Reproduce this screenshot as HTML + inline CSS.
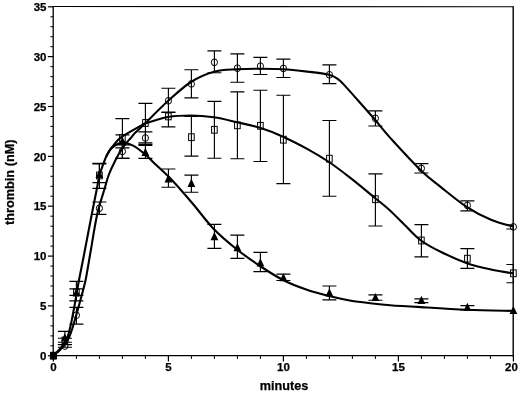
<!DOCTYPE html>
<html lang="en"><head><meta charset="utf-8"><title>thrombin (nM) vs minutes</title>
<style>html,body{margin:0;padding:0;background:#fff}body{width:520px;height:395px;overflow:hidden}</style></head>
<body>
<svg width="520" height="395" viewBox="0 0 520 395" style="display:block">
<rect width="520" height="395" fill="#fff"/>
<g stroke="#000" stroke-width="1.5" fill="none">
<path d="M53.2,356.4 V6.5" stroke-width="1.3"/>
<path d="M52.6,6.5 L513.8,6.8" stroke-width="1.1"/>
<path d="M513.2,6.5 V356.4" stroke-width="1.4"/>
<path d="M53.2,355.7 H513.2" stroke-width="1.3"/>
<path d="M47.9,355.8 H53.2" stroke-width="1.2"/>
<path d="M50.4,345.8 H53.2" stroke-width="1"/>
<path d="M50.4,335.9 H53.2" stroke-width="1"/>
<path d="M50.4,325.9 H53.2" stroke-width="1"/>
<path d="M50.4,315.9 H53.2" stroke-width="1"/>
<path d="M47.9,305.9 H53.2" stroke-width="1.2"/>
<path d="M50.4,296.0 H53.2" stroke-width="1"/>
<path d="M50.4,286.0 H53.2" stroke-width="1"/>
<path d="M50.4,276.0 H53.2" stroke-width="1"/>
<path d="M50.4,266.1 H53.2" stroke-width="1"/>
<path d="M47.9,256.1 H53.2" stroke-width="1.2"/>
<path d="M50.4,246.1 H53.2" stroke-width="1"/>
<path d="M50.4,236.1 H53.2" stroke-width="1"/>
<path d="M50.4,226.2 H53.2" stroke-width="1"/>
<path d="M50.4,216.2 H53.2" stroke-width="1"/>
<path d="M47.9,206.2 H53.2" stroke-width="1.2"/>
<path d="M50.4,196.2 H53.2" stroke-width="1"/>
<path d="M50.4,186.3 H53.2" stroke-width="1"/>
<path d="M50.4,176.3 H53.2" stroke-width="1"/>
<path d="M50.4,166.3 H53.2" stroke-width="1"/>
<path d="M47.9,156.4 H53.2" stroke-width="1.2"/>
<path d="M50.4,146.4 H53.2" stroke-width="1"/>
<path d="M50.4,136.4 H53.2" stroke-width="1"/>
<path d="M50.4,126.4 H53.2" stroke-width="1"/>
<path d="M50.4,116.5 H53.2" stroke-width="1"/>
<path d="M47.9,106.5 H53.2" stroke-width="1.2"/>
<path d="M50.4,96.5 H53.2" stroke-width="1"/>
<path d="M50.4,86.6 H53.2" stroke-width="1"/>
<path d="M50.4,76.6 H53.2" stroke-width="1"/>
<path d="M50.4,66.6 H53.2" stroke-width="1"/>
<path d="M47.9,56.6 H53.2" stroke-width="1.2"/>
<path d="M50.4,46.7 H53.2" stroke-width="1"/>
<path d="M50.4,36.7 H53.2" stroke-width="1"/>
<path d="M50.4,26.7 H53.2" stroke-width="1"/>
<path d="M50.4,16.8 H53.2" stroke-width="1"/>
<path d="M47.9,6.8 H53.2" stroke-width="1.2"/>
<path d="M53.4,355.6 v6.0" stroke-width="1.2"/>
<path d="M76.4,355.6 v3.4" stroke-width="1"/>
<path d="M99.4,355.6 v3.4" stroke-width="1"/>
<path d="M122.4,355.6 v3.4" stroke-width="1"/>
<path d="M145.4,355.6 v3.4" stroke-width="1"/>
<path d="M168.4,355.6 v6.0" stroke-width="1.2"/>
<path d="M191.4,355.6 v3.4" stroke-width="1"/>
<path d="M214.4,355.6 v3.4" stroke-width="1"/>
<path d="M237.4,355.6 v3.4" stroke-width="1"/>
<path d="M260.4,355.6 v3.4" stroke-width="1"/>
<path d="M283.4,355.6 v6.0" stroke-width="1.2"/>
<path d="M306.4,355.6 v3.4" stroke-width="1"/>
<path d="M329.4,355.6 v3.4" stroke-width="1"/>
<path d="M352.4,355.6 v3.4" stroke-width="1"/>
<path d="M375.4,355.6 v3.4" stroke-width="1"/>
<path d="M398.4,355.6 v6.0" stroke-width="1.2"/>
<path d="M421.4,355.6 v3.4" stroke-width="1"/>
<path d="M444.4,355.6 v3.4" stroke-width="1"/>
<path d="M467.4,355.6 v3.4" stroke-width="1"/>
<path d="M490.4,355.6 v3.4" stroke-width="1"/>
<path d="M513.4,355.6 v6.0" stroke-width="1.2"/>
</g>
<g stroke="#000" stroke-width="1.15" fill="none">
<path d="M64.9,344.6 V347.2 M57.9,344.6 H71.9 M57.9,347.2 H71.9"/>
<path d="M76.4,307.3 V324.1 M69.4,307.3 H83.4 M69.4,324.1 H83.4"/>
<path d="M99.4,202.0 V214.4 M92.4,202.0 H106.4 M92.4,214.4 H106.4"/>
<path d="M122.4,144.8 V158.3 M115.4,144.8 H129.4 M115.4,158.3 H129.4"/>
<path d="M145.4,131.9 V144.3 M138.4,131.9 H152.4 M138.4,144.3 H152.4"/>
<path d="M168.4,88.2 V112.5 M161.4,88.2 H175.4 M161.4,112.5 H175.4"/>
<path d="M191.4,69.7 V97.8 M184.4,69.7 H198.4 M184.4,97.8 H198.4"/>
<path d="M214.4,50.9 V72.7 M207.4,50.9 H221.4 M207.4,72.7 H221.4"/>
<path d="M237.4,53.9 V82.2 M230.4,53.9 H244.4 M230.4,82.2 H244.4"/>
<path d="M260.4,57.4 V74.5 M253.4,57.4 H267.4 M253.4,74.5 H267.4"/>
<path d="M283.4,59.1 V77.5 M276.4,59.1 H290.4 M276.4,77.5 H290.4"/>
<path d="M329.4,64.9 V83.6 M322.4,64.9 H336.4 M322.4,83.6 H336.4"/>
<path d="M375.4,110.9 V126.0 M368.4,110.9 H382.4 M368.4,126.0 H382.4"/>
<path d="M421.4,163.6 V173.0 M414.4,163.6 H428.4 M414.4,173.0 H428.4"/>
<path d="M467.4,200.8 V210.9 M460.4,200.8 H474.4 M460.4,210.9 H474.4"/>
<path d="M513.4,225.0 V229.0 M506.4,225.0 H513.2 M506.4,229.0 H513.2"/>
<path d="M64.9,338.2 V342.2 M57.9,338.2 H71.9 M57.9,342.2 H71.9"/>
<path d="M76.4,288.8 V295.4 M69.4,288.8 H83.4 M69.4,295.4 H83.4"/>
<path d="M99.4,163.3 V188.3 M92.4,163.3 H106.4 M92.4,188.3 H106.4"/>
<path d="M122.4,118.6 V158.3 M115.4,118.6 H129.4 M115.4,158.3 H129.4"/>
<path d="M145.4,103.3 V142.8 M138.4,103.3 H152.4 M138.4,142.8 H152.4"/>
<path d="M168.4,112.1 V126.8 M161.4,112.1 H175.4 M161.4,126.8 H175.4"/>
<path d="M191.4,116.4 V156.1 M184.4,116.4 H198.4 M184.4,156.1 H198.4"/>
<path d="M214.4,101.4 V158.2 M207.4,101.4 H221.4 M207.4,158.2 H221.4"/>
<path d="M237.4,91.8 V158.7 M230.4,91.8 H244.4 M230.4,158.7 H244.4"/>
<path d="M260.4,90.2 V161.5 M253.4,90.2 H267.4 M253.4,161.5 H267.4"/>
<path d="M283.4,95.2 V183.6 M276.4,95.2 H290.4 M276.4,183.6 H290.4"/>
<path d="M329.4,120.5 V196.2 M322.4,120.5 H336.4 M322.4,196.2 H336.4"/>
<path d="M375.4,173.8 V226.0 M368.4,173.8 H382.4 M368.4,226.0 H382.4"/>
<path d="M421.4,224.6 V256.9 M414.4,224.6 H428.4 M414.4,256.9 H428.4"/>
<path d="M467.4,248.6 V268.3 M460.4,248.6 H474.4 M460.4,268.3 H474.4"/>
<path d="M513.4,264.5 V282.7 M506.4,264.5 H513.2 M506.4,282.7 H513.2"/>
<path d="M64.9,331.4 V344.5 M57.9,331.4 H71.9 M57.9,344.5 H71.9"/>
<path d="M76.4,281.3 V300.8 M69.4,281.3 H83.4 M69.4,300.8 H83.4"/>
<path d="M99.4,164.0 V182.6 M92.4,164.0 H106.4 M92.4,182.6 H106.4"/>
<path d="M122.4,134.9 V147.8 M115.4,134.9 H129.4 M115.4,147.8 H129.4"/>
<path d="M145.4,145.5 V158.4 M138.4,145.5 H152.4 M138.4,158.4 H152.4"/>
<path d="M168.4,169.0 V187.2 M161.4,169.0 H175.4 M161.4,187.2 H175.4"/>
<path d="M191.4,175.1 V192.2 M184.4,175.1 H198.4 M184.4,192.2 H198.4"/>
<path d="M214.4,224.3 V248.3 M207.4,224.3 H221.4 M207.4,248.3 H221.4"/>
<path d="M237.4,235.1 V258.4 M230.4,235.1 H244.4 M230.4,258.4 H244.4"/>
<path d="M260.4,252.4 V271.6 M253.4,252.4 H267.4 M253.4,271.6 H267.4"/>
<path d="M283.4,274.1 V280.5 M276.4,274.1 H290.4 M276.4,280.5 H290.4"/>
<path d="M329.4,286.0 V299.9 M322.4,286.0 H336.4 M322.4,299.9 H336.4"/>
<path d="M375.4,294.9 V300.2 M368.4,294.9 H382.4 M368.4,300.2 H382.4"/>
<path d="M421.4,298.8 V302.6 M414.4,298.8 H428.4 M414.4,302.6 H428.4"/>
<path d="M467.4,305.6 V310.0 M460.4,305.6 H474.4 M460.4,310.0 H474.4"/>
</g>
<g stroke="#000" stroke-width="2.1" fill="none" stroke-linejoin="round">
<path d="M53.0,355.7 C54.1,354.8 57.1,353.0 59.5,350.5 C61.9,348.0 65.4,343.9 67.4,340.7 C69.4,337.4 70.3,334.4 71.5,331.0 C72.7,327.6 73.2,325.6 74.7,320.5 C76.2,315.4 78.6,306.9 80.4,300.2 C82.2,293.4 83.9,287.8 85.6,280.0 C87.2,272.2 88.4,264.1 90.3,253.3 C92.2,242.5 94.7,225.9 97.0,215.3 C99.3,204.8 102.2,196.7 104.2,190.0 C106.2,183.3 107.1,179.3 108.7,175.0 C110.3,170.7 111.8,167.6 113.6,164.0 C115.3,160.4 117.2,156.6 119.2,153.3 C121.2,150.0 123.4,146.7 125.3,144.2 C127.2,141.7 128.9,140.1 130.6,138.2 C132.3,136.3 133.0,135.0 135.4,132.6 C137.8,130.2 139.6,128.8 145.0,123.5 C150.4,118.2 160.3,107.9 168.0,101.0 C175.7,94.1 183.3,86.9 191.0,82.0 C198.7,77.1 206.3,73.8 214.0,71.7 C221.7,69.6 229.3,69.7 237.0,69.2 C244.7,68.7 252.3,68.7 260.0,68.7 C267.7,68.7 275.0,68.7 283.0,69.2 C291.0,69.7 300.3,70.8 308.0,71.7 C315.7,72.6 323.9,73.5 329.0,74.8 C334.1,76.1 335.5,77.3 338.3,79.3 C341.1,81.3 342.5,83.3 345.9,86.9 C349.3,90.5 353.6,95.5 358.5,101.0 C363.4,106.5 369.8,113.7 375.0,119.8 C380.2,125.9 382.3,129.2 390.0,137.6 C397.7,146.0 412.6,162.3 421.0,170.5 C429.4,178.7 432.9,180.8 440.6,186.9 C448.3,193.0 458.6,201.6 467.0,207.1 C475.4,212.6 483.3,216.6 491.0,219.8 C498.7,223.1 509.3,225.5 513.0,226.6"/>
<path d="M53.0,355.7 C54.0,354.8 56.8,352.5 59.0,350.0 C61.2,347.5 64.4,343.9 66.1,340.7 C67.8,337.5 68.4,334.4 69.3,331.0 C70.2,327.6 70.7,325.6 71.7,320.5 C72.7,315.4 74.3,306.9 75.5,300.2 C76.7,293.4 77.5,287.8 79.0,280.0 C80.5,272.2 82.2,264.1 84.3,253.3 C86.4,242.5 89.5,225.9 91.6,215.3 C93.6,204.8 95.3,196.7 96.6,190.0 C97.9,183.3 98.5,179.2 99.6,175.0 C100.7,170.8 102.0,167.5 103.1,164.5 C104.2,161.5 105.0,159.3 106.0,157.0 C107.0,154.7 108.4,152.3 109.4,150.6 C110.4,148.9 110.6,148.8 112.1,147.0 C113.6,145.2 116.2,141.7 118.2,139.7 C120.2,137.7 122.3,136.4 124.3,135.1 C126.3,133.8 127.7,133.1 130.4,131.6 C133.1,130.1 138.1,127.3 140.5,126.0 C142.9,124.7 140.4,125.1 145.0,123.6 C149.6,122.1 160.3,118.3 168.0,117.0 C175.7,115.7 183.3,115.5 191.0,115.5 C198.7,115.5 206.3,116.2 214.0,117.3 C221.7,118.4 229.3,120.5 237.0,122.3 C244.7,124.0 252.3,125.4 260.0,127.8 C267.7,130.2 275.0,133.1 283.0,136.7 C291.0,140.3 300.3,145.1 308.0,149.3 C315.7,153.5 321.8,157.2 329.0,162.0 C336.2,166.8 343.3,172.4 351.0,178.4 C358.7,184.4 368.5,192.7 375.0,198.0 C381.5,203.3 385.0,205.9 390.0,210.5 C395.0,215.1 399.8,220.3 405.0,225.3 C410.2,230.3 415.1,236.1 421.0,240.5 C426.9,244.9 432.9,248.0 440.6,251.8 C448.3,255.6 458.6,260.2 467.0,263.2 C475.4,266.1 483.3,267.8 491.0,269.5 C498.7,271.2 509.3,272.7 513.0,273.3"/>
<path d="M106.0,157.0 C106.6,156.0 108.3,152.4 109.4,150.8 C110.5,149.2 111.2,148.5 112.5,147.4 C113.8,146.3 115.8,144.9 117.2,144.2 C118.6,143.4 119.7,143.2 121.0,142.9 C122.3,142.7 124.1,142.6 125.3,142.7 C126.5,142.8 126.6,143.0 128.3,143.7 C130.0,144.4 133.0,145.4 135.4,146.8 C137.8,148.2 140.3,150.5 142.5,152.3 C144.7,154.1 146.6,155.5 148.6,157.4 C150.6,159.3 150.6,159.6 154.6,163.5 C158.6,167.4 166.4,174.2 172.8,181.0 C179.2,187.8 186.1,195.9 193.0,204.0 C199.9,212.1 206.7,221.7 214.0,229.3 C221.3,236.9 229.3,243.4 237.0,249.5 C244.7,255.6 252.3,260.9 260.0,266.0 C267.7,271.1 275.4,276.1 283.0,280.0 C290.6,283.9 297.8,286.6 305.5,289.3 C313.2,292.0 321.4,294.2 329.0,296.1 C336.6,298.0 343.3,299.4 351.0,300.7 C358.7,302.0 368.5,302.9 375.0,303.7 C381.5,304.4 382.3,304.6 390.0,305.2 C397.7,305.8 408.2,306.4 421.0,307.1 C433.8,307.9 451.7,309.1 467.0,309.7 C482.3,310.3 505.3,310.7 513.0,310.9"/>
</g>
<g stroke="#000" stroke-width="1" fill="none">
<ellipse cx="53.4" cy="355.7" rx="3.1" ry="3.4"/>
<ellipse cx="64.9" cy="346.0" rx="3.1" ry="3.4"/>
<ellipse cx="76.4" cy="315.2" rx="3.1" ry="3.4"/>
<ellipse cx="99.4" cy="208.3" rx="3.1" ry="3.4"/>
<ellipse cx="122.4" cy="151.4" rx="3.1" ry="3.4"/>
<ellipse cx="145.4" cy="138.0" rx="3.1" ry="3.4"/>
<ellipse cx="168.4" cy="100.8" rx="3.1" ry="3.4"/>
<ellipse cx="191.4" cy="83.9" rx="3.1" ry="3.4"/>
<ellipse cx="214.4" cy="62.3" rx="3.1" ry="3.4"/>
<ellipse cx="237.4" cy="68.2" rx="3.1" ry="3.4"/>
<ellipse cx="260.4" cy="66.2" rx="3.1" ry="3.4"/>
<ellipse cx="283.4" cy="68.4" rx="3.1" ry="3.4"/>
<ellipse cx="329.4" cy="74.8" rx="3.1" ry="3.4"/>
<ellipse cx="375.4" cy="118.3" rx="3.1" ry="3.4"/>
<ellipse cx="421.4" cy="168.4" rx="3.1" ry="3.4"/>
<ellipse cx="467.4" cy="205.4" rx="3.1" ry="3.4"/>
<ellipse cx="513.4" cy="226.9" rx="3.1" ry="3.4"/>
<rect x="50.6" y="352.3" width="5.6" height="6.8"/>
<rect x="62.1" y="337.1" width="5.6" height="6.8"/>
<rect x="73.6" y="289.1" width="5.6" height="6.8"/>
<rect x="96.6" y="172.1" width="5.6" height="6.8"/>
<rect x="119.6" y="134.6" width="5.6" height="6.8"/>
<rect x="142.6" y="119.6" width="5.6" height="6.8"/>
<rect x="165.6" y="113.0" width="5.6" height="6.8"/>
<rect x="188.6" y="133.8" width="5.6" height="6.8"/>
<rect x="211.6" y="126.4" width="5.6" height="6.8"/>
<rect x="234.6" y="121.9" width="5.6" height="6.8"/>
<rect x="257.6" y="122.4" width="5.6" height="6.8"/>
<rect x="280.6" y="136.3" width="5.6" height="6.8"/>
<rect x="326.6" y="155.3" width="5.6" height="6.8"/>
<rect x="372.6" y="195.8" width="5.6" height="6.8"/>
<rect x="418.6" y="237.1" width="5.6" height="6.8"/>
<rect x="464.6" y="255.3" width="5.6" height="6.8"/>
<rect x="510.6" y="269.9" width="5.6" height="6.8"/>
</g>
<g fill="#000" stroke="none">
<path d="M53.4,350.9 L57.3,359.1 L49.5,359.1 Z"/>
<path d="M64.9,333.2 L68.8,341.4 L61.0,341.4 Z"/>
<path d="M76.4,288.0 L80.3,296.2 L72.5,296.2 Z"/>
<path d="M99.4,169.7 L103.3,177.9 L95.5,177.9 Z"/>
<path d="M122.4,136.6 L126.3,144.8 L118.5,144.8 Z"/>
<path d="M145.4,147.7 L149.3,155.9 L141.5,155.9 Z"/>
<path d="M168.4,174.2 L172.3,182.4 L164.5,182.4 Z"/>
<path d="M191.4,178.7 L195.3,186.9 L187.5,186.9 Z"/>
<path d="M214.4,232.1 L218.3,240.3 L210.5,240.3 Z"/>
<path d="M237.4,243.0 L241.3,251.2 L233.5,251.2 Z"/>
<path d="M260.4,258.2 L264.3,266.4 L256.5,266.4 Z"/>
<path d="M283.4,273.1 L287.3,281.3 L279.5,281.3 Z"/>
<path d="M329.4,288.3 L333.3,296.5 L325.5,296.5 Z"/>
<path d="M375.4,292.9 L379.3,301.1 L371.5,301.1 Z"/>
<path d="M421.4,295.8 L425.3,304.0 L417.5,304.0 Z"/>
<path d="M467.4,302.8 L471.3,311.0 L463.5,311.0 Z"/>
<path d="M513.4,305.9 L517.3,314.1 L509.5,314.1 Z"/>
<rect x="50.5" y="352.5" width="6" height="6"/>
</g>
<g font-family="'Liberation Sans', Arial, sans-serif" font-weight="bold" fill="#000" stroke="#000" stroke-width="0.25">
<g font-size="11.5px" text-anchor="end">
<text x="46.5" y="360.0">0</text>
<text x="46.5" y="310.1">5</text>
<text x="46.5" y="260.3">10</text>
<text x="46.5" y="210.4">15</text>
<text x="46.5" y="160.6">20</text>
<text x="46.5" y="110.7">25</text>
<text x="46.5" y="60.8">30</text>
<text x="46.5" y="11.0">35</text>
</g>
<g font-size="11.5px" text-anchor="middle">
<text x="53.4" y="371">0</text>
<text x="168.4" y="371">5</text>
<text x="283.4" y="371">10</text>
<text x="398.4" y="371">15</text>
<text x="511.4" y="371">20</text>
</g>
<text x="259.8" y="390" font-size="12px" textLength="48.4" lengthAdjust="spacingAndGlyphs">minutes</text>
<text transform="translate(13.9,225) rotate(-90)" font-size="12px" textLength="85.5" lengthAdjust="spacingAndGlyphs">thrombin (nM)</text>
</g>
</svg>
</body></html>
